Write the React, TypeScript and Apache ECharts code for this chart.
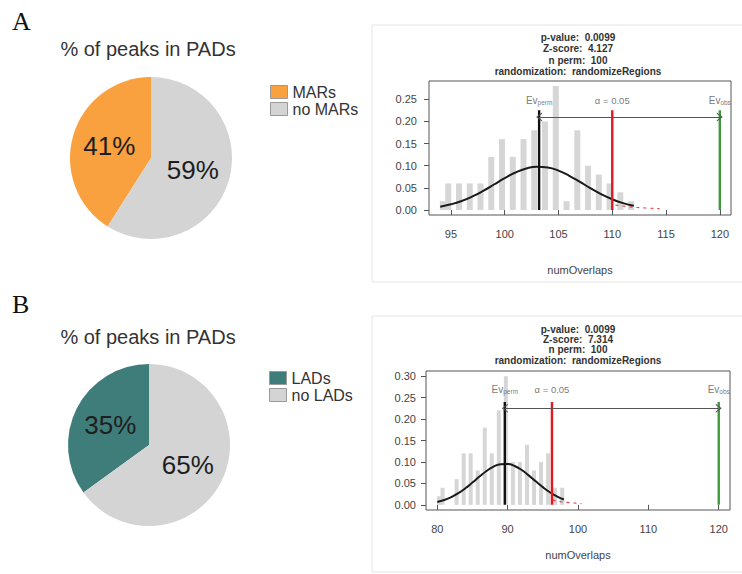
import React, { useEffect, useRef } from "react";
import * as echarts from "echarts";

// ---------- Pie data ----------
const pieACats = ["MARs", "no MARs"];
const pieAValues = [41, 59];
const pieBCats = ["LADs", "no LADs"];
const pieBValues = [35, 65];

// ---------- Histogram A (MARs) ----------
const histABins = [94.25, 94.75, 95.75, 96.75, 97.75, 98.75, 99.75, 100.75, 101.75, 102.75, 103.75, 104.75, 105.75, 106.75, 107.75, 108.75, 109.75, 110.75, 111.75];
const histADensity = [0.02, 0.06, 0.06, 0.06, 0.06, 0.12, 0.16, 0.12, 0.16, 0.18, 0.2, 0.28, 0.02, 0.18, 0.1, 0.08, 0.06, 0.04, 0.02];
const curveAX = [94, 95, 96, 97, 98, 99, 100, 101, 102, 103, 104, 105, 106, 107, 108, 109, 110, 111, 112];
const curveAY = [0.0076, 0.0129, 0.0205, 0.0307, 0.0433, 0.0576, 0.072, 0.0847, 0.0938, 0.0979, 0.0961, 0.0889, 0.0773, 0.0634, 0.0489, 0.0355, 0.0243, 0.0156, 0.0095];
const tailAX = [110.3, 112, 114.4];
const tailAY = [0.011, 0.006, 0.003];
const evPermA = 103.2;
const alphaA = 110;
const evObsA = 120;
const lineTopA = 0.225;
const arrowYA = 0.21;
const labelYA = 0.248;
const statsA = ["p-value:  0.0099", "Z-score:  4.127", "n perm:  100", "randomization:  randomizeRegions"];
const xTicksA = [95, 100, 105, 110, 115, 120];
const yTicksA = [0, 0.05, 0.1, 0.15, 0.2, 0.25];

// ---------- Histogram B (LADs) ----------
const histBBins = [80.25, 80.75, 82.75, 83.75, 84.75, 85.75, 86.75, 87.75, 88.75, 89.75, 90.75, 91.75, 92.75, 93.75, 94.75, 95.75, 96.75, 97.75];
const histBDensity = [0.02, 0.04, 0.06, 0.12, 0.12, 0.08, 0.18, 0.12, 0.22, 0.3, 0.1, 0.1, 0.14, 0.08, 0.1, 0.12, 0.04, 0.04];
const curveBX = [80, 81, 82, 83, 84, 85, 86, 87, 88, 89, 90, 91, 92, 93, 94, 95, 96, 97, 98];
const curveBY = [0.0067, 0.0113, 0.0181, 0.0272, 0.0387, 0.052, 0.066, 0.0789, 0.0891, 0.0949, 0.0955, 0.0906, 0.0812, 0.0687, 0.0548, 0.0413, 0.0294, 0.0197, 0.0125];
const tailBX = [96.4, 98, 100.5];
const tailBY = [0.011, 0.006, 0.003];
const evPermB = 89.6;
const alphaB = 96.3;
const evObsB = 120;
const lineTopB = 0.24;
const arrowYB = 0.225;
const labelYB = 0.27;
const statsB = ["p-value:  0.0099", "Z-score:  7.314", "n perm:  100", "randomization:  randomizeRegions"];
const xTicksB = [80, 90, 100, 110, 120];
const yTicksB = [0, 0.05, 0.1, 0.15, 0.2, 0.25, 0.3];

const SANS = "'Liberation Sans', Arial, sans-serif";
const CHEVRON = "path://M0,10 L5,0 L10,10 L8.6,10 L5,2.8 L1.4,10 Z";

function zip(xs: number[], ys: number[]) {
  return xs.map((x, i) => [x, ys[i]]);
}

function histSeries(idx: number, bins: number[], dens: number[], curveX: number[], curveY: number[], tailX: number[], tailY: number[], evPerm: number, alpha: number, evObs: number, lineTop: number, arrowY: number, labelY: number, barW: number) {
  const common = { xAxisIndex: idx, yAxisIndex: idx, silent: true };
  const vline = (x: number, color: string) => ({
    ...common,
    type: "line",
    data: [[x, 0], [x, lineTop]],
    symbol: "none",
    lineStyle: { color, width: 2.4 },
    z: 4,
  });
  const rich = {
    a: { fontSize: 10, color: "#555", fontFamily: SANS },
    b: { fontSize: 6.5, color: "#555", fontFamily: SANS, padding: [5, 0, 0, 0] },
  };
  return [
    {
      ...common,
      type: "bar",
      data: zip(bins, dens),
      barWidth: barW,
      itemStyle: { color: "#d6d6d6" },
      z: 1,
    },
    {
      ...common,
      type: "line",
      data: zip(tailX, tailY),
      symbol: "none",
      lineStyle: { color: "#e8474a", width: 1.2, type: [3, 4] },
      z: 2,
    },
    {
      ...common,
      type: "line",
      data: zip(curveX, curveY),
      smooth: true,
      symbol: "none",
      lineStyle: { color: "#1a1a1a", width: 2 },
      z: 3,
      markLine: {
        silent: true,
        symbol: [CHEVRON, CHEVRON],
        symbolSize: [9, 6],
        lineStyle: { color: "#555", width: 1, type: "solid" },
        label: { show: false },
        data: [[{ coord: [evPerm, arrowY] }, { coord: [evObs, arrowY] }]],
      },
    },
    vline(evPerm, "#111111"),
    vline(alpha, "#e3171d"),
    vline(evObs, "#3b9a3b"),
    {
      ...common,
      type: "scatter",
      symbolSize: 0,
      z: 5,
      label: {
        show: true,
        position: "inside",
        fontSize: 9.5,
        color: "#555",
        fontFamily: SANS,
        rich,
      },
      data: [
        { value: [evPerm, labelY], label: { formatter: "{a|Ev}{b|perm}" } },
        { value: [alpha, labelY], label: { formatter: "α = 0.05" } },
        { value: [evObs, labelY], label: { formatter: "{a|Ev}{b|obs}" } },
      ],
    },
  ];
}

function xAxisCfg(idx: number, min: number, max: number, ticks: number[], nameGap: number) {
  return {
    gridIndex: idx,
    type: "value",
    min,
    max,
    splitLine: { show: false },
    axisLine: { show: false },
    axisTick: { show: true, customValues: ticks, length: 5, lineStyle: { color: "#555" } },
    axisLabel: { customValues: ticks, fontSize: 11, color: "#444", margin: 13, fontFamily: SANS },
    name: "numOverlaps",
    nameLocation: "middle",
    nameGap,
    nameTextStyle: { fontSize: 11, color: "#444", fontFamily: SANS },
  };
}

function yAxisCfg(idx: number, min: number, max: number, ticks: number[], margin: number) {
  return {
    gridIndex: idx,
    type: "value",
    min,
    max,
    splitLine: { show: false },
    axisLine: { show: false },
    axisTick: { show: true, customValues: ticks, length: 5, lineStyle: { color: "#555" } },
    axisLabel: {
      customValues: ticks,
      fontSize: 11,
      color: "#444",
      margin,
      fontFamily: SANS,
      formatter: (v: number) => v.toFixed(2),
    },
  };
}

function statsText(lines: string[], cx: number, y0: number, dy: number) {
  return lines.map((t, i) => ({
    type: "text",
    x: cx,
    y: y0 + i * dy,
    silent: true,
    style: {
      text: t,
      font: `bold 10px ${SANS}`,
      fill: "#333",
      textAlign: "center",
      textVerticalAlign: "middle",
    },
  }));
}

export default function App() {
  const ref = useRef<HTMLDivElement>(null);
  useEffect(() => {
    if (!ref.current) return;
    const chart = echarts.init(ref.current, null, { renderer: "svg" });
    const pieLabel = {
      show: true,
      position: "inside",
      formatter: "{c}%",
      fontSize: 26,
      color: "#1e1e1e",
      fontFamily: SANS,
    };
    const legendCommon = {
      orient: "vertical",
      icon: "rect",
      itemWidth: 17,
      itemHeight: 13,
      itemGap: 1,
      itemStyle: { borderColor: "#9a9a9a", borderWidth: 1 },
      textStyle: { fontSize: 16, lineHeight: 16, color: "#333", fontFamily: SANS },
      selectedMode: false,
    };
    const option: any = {
      animation: false,
      textStyle: { fontFamily: SANS },
      legend: [
        { ...legendCommon, data: pieACats, left: 265, top: 79 },
        { ...legendCommon, data: pieBCats, left: 264, top: 365 },
      ],
      grid: [
        { left: 429, top: 81, width: 302, height: 134, show: true, borderColor: "#555", borderWidth: 1, backgroundColor: "transparent" },
        { left: 426, top: 371, width: 304, height: 139, show: true, borderColor: "#555", borderWidth: 1, backgroundColor: "transparent" },
      ],
      xAxis: [
        xAxisCfg(0, 92.96, 121.04, xTicksA, 49),
        xAxisCfg(1, 78.4, 121.6, xTicksB, 39),
      ],
      yAxis: [
        yAxisCfg(0, -0.0112, 0.2912, yTicksA, 12),
        yAxisCfg(1, -0.012, 0.312, yTicksB, 10),
      ],
      graphic: [
        { type: "rect", silent: true, shape: { x: 372, y: 25, width: 380, height: 257 }, style: { fill: "none", stroke: "#e6e6e6", lineWidth: 1 } },
        { type: "rect", silent: true, shape: { x: 372, y: 316, width: 380, height: 256 }, style: { fill: "none", stroke: "#e6e6e6", lineWidth: 1 } },
        { type: "text", x: 12, y: 8, style: { text: "A", font: "26px 'Liberation Serif', 'Times New Roman', serif", fill: "#111" } },
        { type: "text", x: 12, y: 291, style: { text: "B", font: "26px 'Liberation Serif', 'Times New Roman', serif", fill: "#111" } },
        { type: "text", x: 148, y: 49, style: { text: "% of peaks in PADs", font: `20px ${SANS}`, fill: "#333", textAlign: "center", textVerticalAlign: "middle" } },
        { type: "text", x: 148, y: 337, style: { text: "% of peaks in PADs", font: `20px ${SANS}`, fill: "#333", textAlign: "center", textVerticalAlign: "middle" } },
        ...statsText(statsA, 578, 37, 11.5),
        ...statsText(statsB, 578, 329, 10.4),
      ],
      series: [
        {
          type: "pie",
          center: [151, 158],
          radius: 81,
          startAngle: 90,
          clockwise: false,
          silent: true,
          label: pieLabel,
          labelLine: { show: false },
          data: [
            { name: pieACats[0], value: pieAValues[0], itemStyle: { color: "#f9a03f" } },
            { name: pieACats[1], value: pieAValues[1], itemStyle: { color: "#d4d4d4" } },
          ],
        },
        {
          type: "pie",
          center: [149, 445],
          radius: 81,
          startAngle: 90,
          clockwise: false,
          silent: true,
          label: pieLabel,
          labelLine: { show: false },
          data: [
            { name: pieBCats[0], value: pieBValues[0], itemStyle: { color: "#3e7d79" } },
            { name: pieBCats[1], value: pieBValues[1], itemStyle: { color: "#d4d4d4" } },
          ],
        },
        ...histSeries(0, histABins, histADensity, curveAX, curveAY, tailAX, tailAY, evPermA, alphaA, evObsA, lineTopA, arrowYA, labelYA, 6),
        ...histSeries(1, histBBins, histBDensity, curveBX, curveBY, tailBX, tailBY, evPermB, alphaB, evObsB, lineTopB, arrowYB, labelYB, 4),
      ],
    };
    chart.setOption(option);
    return () => chart.dispose();
  }, []);
  return (
    <div
      ref={ref}
      style={{ position: "absolute", left: 0, top: 0, width: 742, height: 574, background: "#fff" }}
    />
  );
}
